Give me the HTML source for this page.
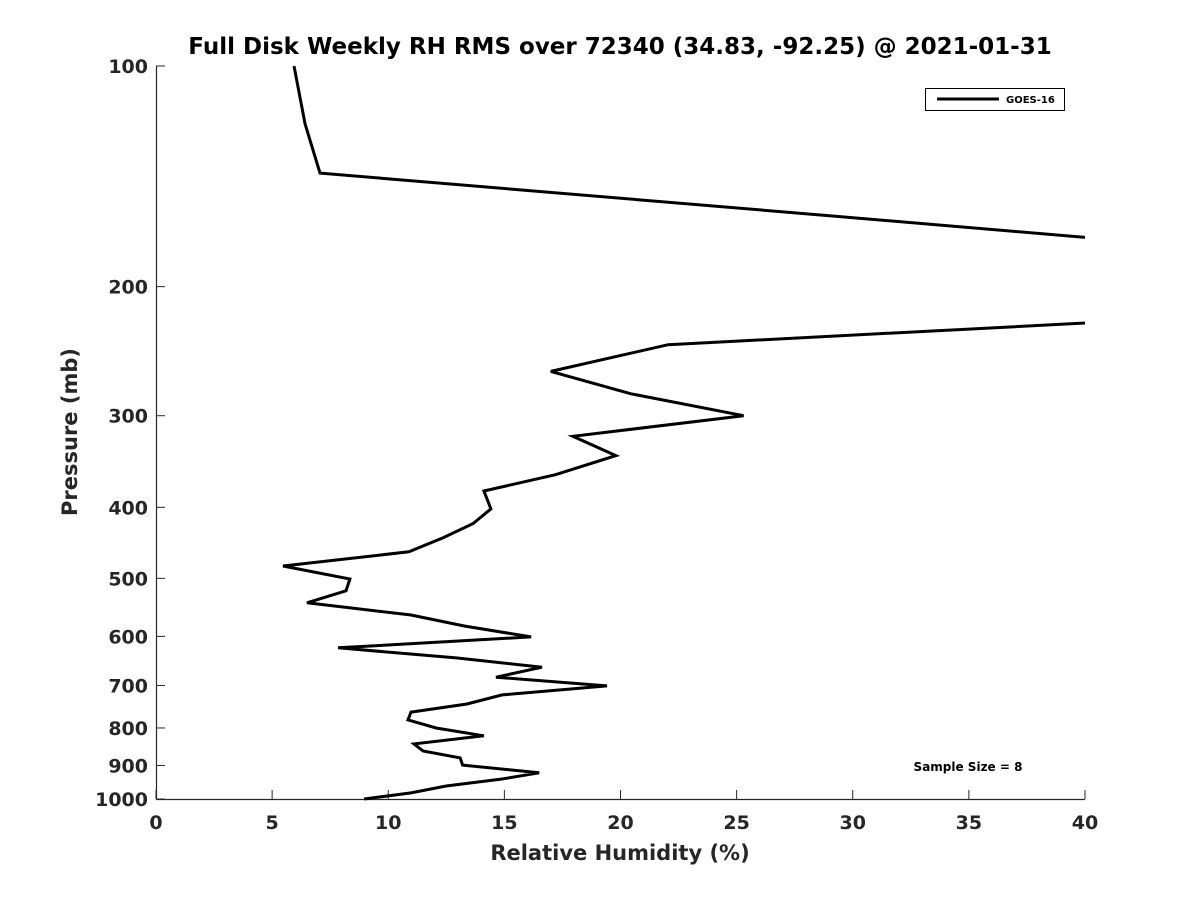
<!DOCTYPE html>
<html><head><meta charset="utf-8"><style>
body{margin:0;background:#fff}
svg text{font-family:"DejaVu Sans","Liberation Sans",sans-serif;font-weight:bold}
</style></head><body>
<svg id="chart" width="1200" height="900" xmlns="http://www.w3.org/2000/svg">
<rect width="1200" height="900" fill="#fff"/>
<defs><clipPath id="clip"><rect x="156" y="60" width="929" height="745"/></clipPath></defs>
<text x="620" y="54" text-anchor="middle" font-size="23" fill="#000">Full Disk Weekly RH RMS over 72340 (34.83, -92.25) @ 2021-01-31</text>
<g id="axes"></g>
<g id="series" clip-path="url(#clip)"></g>
<g>
<rect x="925.5" y="88.5" width="139" height="22" fill="#fff" stroke="#000" stroke-width="1"/>
<line x1="937" y1="99" x2="999" y2="99" stroke="#000" stroke-width="3"/>
<text x="1006" y="103" font-size="10" fill="#000">GOES-16</text>
</g>
<text x="968" y="771" text-anchor="middle" font-size="12" fill="#000">Sample Size = 8</text>
<text x="620" y="860" text-anchor="middle" font-size="21" fill="#262626">Relative Humidity (%)</text>
<text transform="translate(77,432) rotate(-90)" text-anchor="middle" font-size="21" fill="#262626">Pressure (mb)</text>
</svg>
<script>
const rhValues=[5.94,6.42,7.06,28.93,48,52,45,22.05,17.0,20.45,25.3,17.95,19.8,17.2,14.12,14.42,13.65,12.36,10.89,5.47,8.35,8.18,6.5,10.98,13.3,16.15,7.84,12.92,16.62,14.64,19.42,14.9,13.39,10.98,10.85,12.06,14.12,11.11,11.5,13.1,13.2,16.5,14.9,12.49,10.98,8.96];
const pressures=[100,120,140,160,180,200,220,240,261,280,300,320,340,361,380,402,421,440,460,481,501,520,540,561,581,601,622,642,661,682,701,721,742,761,780,800,820,841,860,879,899,921,939,960,981,1000];
const xTicks=[0,5,10,15,20,25,30,35,40];
const yTicks=[100,200,300,400,500,600,700,800,900,1000];
const X0=156,X1=1085,Y0=66,Y1=799;
const xS=v=>X0+(v-0)/(40-0)*(X1-X0);
const yS=p=>Y0+(Math.log10(p)-2)/(3-2)*(Y1-Y0);
const NS="http://www.w3.org/2000/svg";
const axes=document.getElementById('axes');
function mk(t,a,parent){const e=document.createElementNS(NS,t);for(const k in a)e.setAttribute(k,a[k]);parent.appendChild(e);return e;}
const ax=mk('line',{x1:X0,y1:Y1+0.5,x2:X1,y2:Y1+0.5,stroke:'#262626','stroke-width':1.2},axes);


const ay=mk('line',{x1:X0+0.5,y1:Y0,x2:X0+0.5,y2:Y1,stroke:'#262626','stroke-width':1.2},axes);


xTicks.forEach(v=>{
 const x=xS(v);
 const t=mk('line',{x1:x,y1:Y1,x2:x,y2:Y1-9,stroke:'#262626','stroke-width':1},axes);
 
 
 const l=mk('text',{x:x,y:Y1+30,'text-anchor':'middle','font-size':19,fill:'#262626'},axes);
 l.textContent=v;
 
 
});
yTicks.forEach(p=>{
 const y=yS(p);
 const t=mk('line',{x1:X0,y1:y,x2:X0+9,y2:y,stroke:'#262626','stroke-width':1},axes);
 
 
 const l=mk('text',{x:X0-8,y:y+7,'text-anchor':'end','font-size':19,fill:'#262626'},axes);
 l.textContent=p;
 
 
});
const pts=rhValues.map((v,i)=>xS(v).toFixed(1)+','+yS(pressures[i]).toFixed(1)).join(' ');
const line=mk('polyline',{points:pts,fill:'none',stroke:'#000','stroke-width':3,'stroke-linejoin':'miter'},document.getElementById('series'));


</script>
</body></html>
